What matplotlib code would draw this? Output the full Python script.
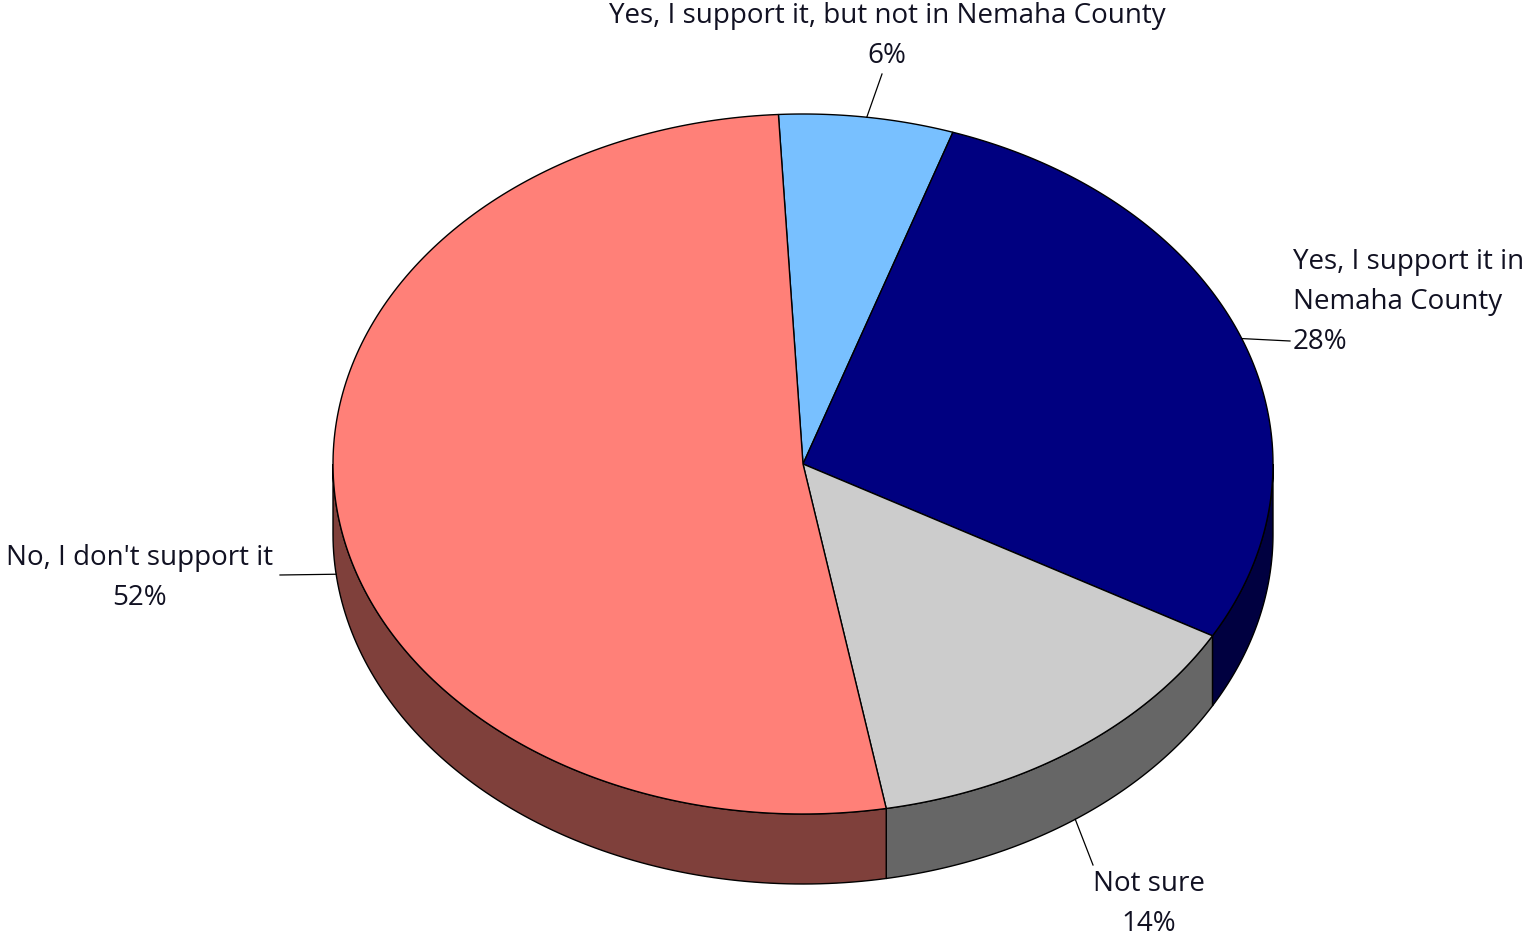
import matplotlib.pyplot as plt
import numpy as np
from matplotlib.patches import Polygon

labels = ["Yes, I support it, but not in Nemaha County", "Yes, I support it in\nNemaha County",
          "Not sure", "No, I don't support it"]
values = [6, 28, 14, 52]
top_colors = ["#78C0FF", "#000080", "#CCCCCC", "#FF8078"]
side_colors = ["#3C6080", "#000040", "#666666", "#7F403B"]

# pie geometry (in pixel units of the figure)
cx, cy = 803, 465
rx, ry = 470, 350
depth = 70
start = 93.0

fig = plt.figure(figsize=(15.29, 9.37), dpi=100)
ax = fig.add_axes([0, 0, 1, 1])
ax.set_xlim(0, 1529)
ax.set_ylim(937, 0)
ax.axis("off")

def pt(t, dz=0):
    r = np.radians(t)
    return cx + rx * np.cos(r), cy - ry * np.sin(r) + dz

fracs = np.array(values) / sum(values) * 360
bounds = start - np.concatenate([[0], np.cumsum(fracs)])

# side walls (front half: angles between -180 and 0)
for i in range(len(values)):
    lo, hi = bounds[i + 1], bounds[i]
    for off in (0, -360, 360):
        s_lo, s_hi = max(lo + off, -180), min(hi + off, 0)
        if s_hi > s_lo:
            ts = np.linspace(s_lo, s_hi, 100)
            upper = [pt(t) for t in ts]
            lower = [pt(t, depth) for t in ts[::-1]]
            ax.add_patch(Polygon(upper + lower, closed=True, facecolor=side_colors[i],
                                 edgecolor="black", linewidth=1.0, zorder=2))

# top faces
for i in range(len(values)):
    ts = np.linspace(bounds[i], bounds[i + 1], 200)
    verts = [(cx, cy)] + [pt(t) for t in ts]
    ax.add_patch(Polygon(verts, closed=True, facecolor=top_colors[i],
                         edgecolor="black", linewidth=1.0, zorder=3))

# labels with leader lines
font = dict(family="Open Sans", fontsize=20, color="#111122")
mids = (bounds[:-1] + bounds[1:]) / 2
label_pos = [(887, 36, "center"), (1293, 302, "left"),
             (1149, 904, "center"), (140, 578, "center")]
leader_end = [(882, 75), (1290, 342), (1093, 866), (280, 576)]
for i in range(len(values)):
    m = mids[i] % 360
    dz = depth if 180 < m < 360 else 0
    x0, y0 = pt(mids[i], dz)
    ax.plot([x0, leader_end[i][0]], [y0, leader_end[i][1]], color="black", linewidth=0.9, zorder=4)
    x, y, ha = label_pos[i]
    ax.text(x, y, f"{labels[i]}\n{values[i]}%", ha=ha, va="center", linespacing=1.55, **font)

fig.savefig("out.png", dpi=100)
